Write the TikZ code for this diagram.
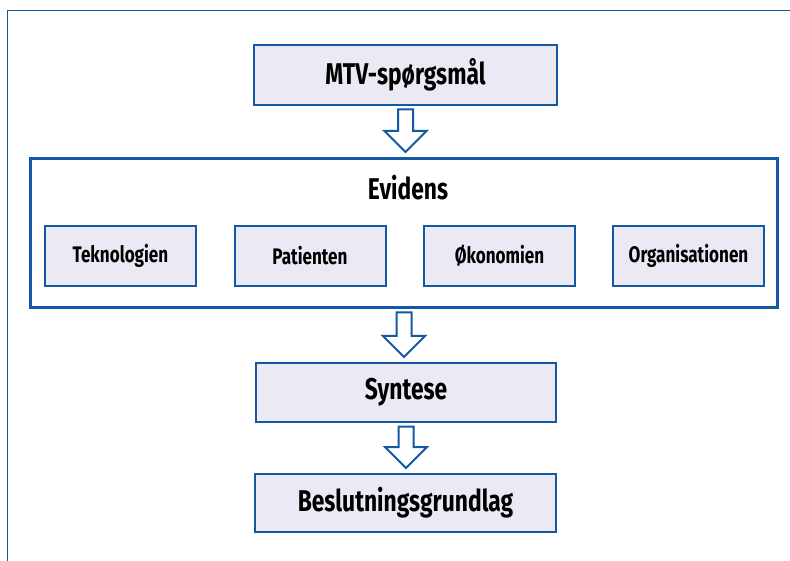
\documentclass[tikz,border=0pt]{standalone}
\usepackage{fontspec}
\setmainfont{Fira Sans}[FakeStretch=0.76]
\usetikzlibrary{calc}
\definecolor{boxblue}{RGB}{18,88,164}
\definecolor{boxfill}{RGB}{235,234,244}
\tikzset{
  frame/.style={draw=boxblue, line width=1.3pt},
  mainbox/.style={draw=boxblue, fill=boxfill, line width=2pt, inner sep=0pt,
    font=\bfseries\fontsize{30}{32}\selectfont},
  subbox/.style={draw=boxblue, fill=boxfill, line width=2pt, inner sep=0pt,
    minimum width=151pt, minimum height=60pt,
    font=\bfseries\fontsize{22.5}{24}\selectfont},
  groupbox/.style={draw=boxblue, line width=3pt, inner sep=0pt},
  grouplabel/.style={font=\bfseries\fontsize{30}{32}\selectfont, inner sep=0pt},
  barrow/.style={draw=boxblue, fill=white, line width=2pt, line join=miter}
}
\newcommand\blockarr[2]{%
  \draw[barrow] let \p1=(#1.south), \p2=(#2.north) in
   (\x1-7.5pt,\y1-3.5pt) -- (\x1+7.5pt,\y1-3.5pt) -- (\x1+7.5pt,\y2+26pt)
   -- (\x1+21pt,\y2+26pt) -- (\x1,\y2+5pt) -- (\x1-21pt,\y2+26pt)
   -- (\x1-7.5pt,\y2+26pt) -- cycle;}
\begin{document}
\begin{tikzpicture}[x=1pt,y=-1pt]
\useasboundingbox (0,0) rectangle (790,561);
\begin{scope}
\clip (0,0) rectangle (790,561);
\draw[frame] (7.5,10.5) rectangle (796,567);
\end{scope}
\node[mainbox, minimum width=303pt, minimum height=60pt] (mtv) at (405.5,75) {MTV-spørgsmål};
\node[groupbox, minimum width=747pt, minimum height=149pt] (evid) at (404,233) {};
\node[grouplabel] (evidl) at (408,188) {Evidens};
\node[subbox] (tek) at (120.5,256) {Teknologien};
\node[subbox] (pat) at (310,256) {Patienten};
\node[subbox] (oko) at (499.5,256) {Økonomien};
\node[subbox] (org) at (688.5,256) {Organisationen};
\node[mainbox, minimum width=300pt, minimum height=59pt] (syn) at (406,392.5) {Syntese};
\node[mainbox, minimum width=301pt, minimum height=58pt] (bes) at (405.5,503) {Beslutningsgrundlag};
\blockarr{mtv}{evid}
\blockarr{evid}{syn}
\blockarr{syn}{bes}
\end{tikzpicture}
\end{document}
